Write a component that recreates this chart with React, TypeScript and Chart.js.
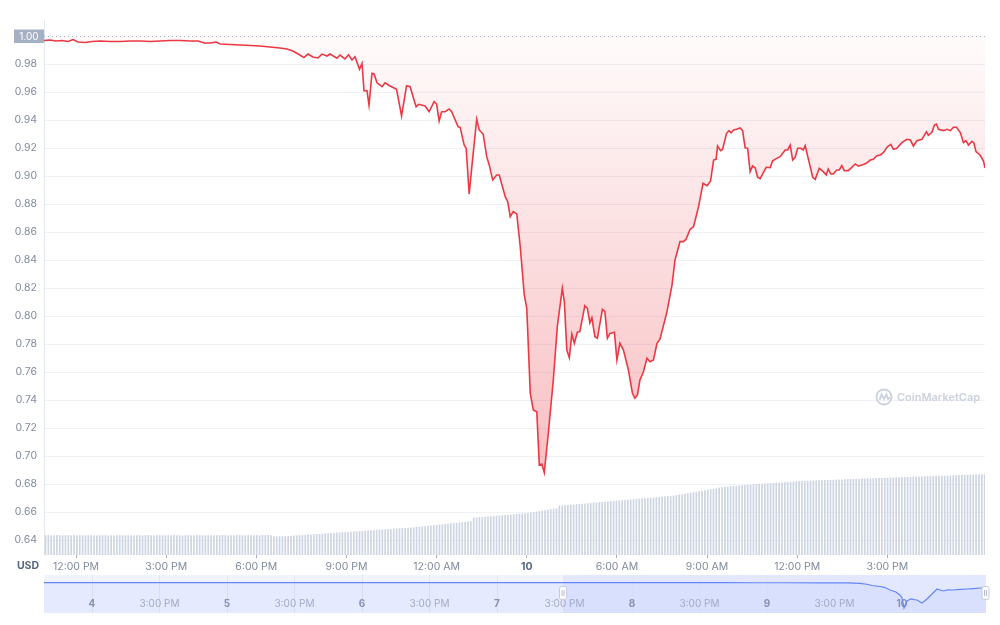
import React, { useEffect, useRef } from "react";
import { Chart, registerables } from "chart.js";

Chart.register(...registerables);

const FONT = "Inter, 'Noto Sans', sans-serif";

// minutes since 12:00 PM (day 9)
const priceTimes = [
  -64, -52, -40, -28, -16, -6, 4, 18, 32, 48,
  68, 88, 108, 128, 148, 168, 188, 208, 228, 244,
  256, 268, 280, 288, 308, 328, 348, 367, 387, 407,
  421, 433, 447, 455, 463, 473, 483, 491, 501, 507,
  521, 527, 537, 544, 551, 557, 566, 571, 575, 581,
  585, 591, 595, 601, 611, 617, 627, 640, 650, 660,
  667, 679, 684, 697, 705, 715, 720, 725, 730, 737,
  745, 750, 763, 767, 775, 779, 785, 790, 800, 805,
  813, 820, 825, 832, 840, 845, 857, 862, 867, 873,
  880, 887, 895, 900, 907, 913, 920, 925, 930, 935,
  943, 953, 961, 971, 975, 980, 985, 990, 995, 1001,
  1006, 1016, 1021, 1026, 1030, 1036, 1041, 1051, 1056, 1061,
  1066, 1075, 1080, 1086, 1093, 1103, 1111, 1116, 1121, 1126,
  1133, 1140, 1146, 1153, 1160, 1166, 1180, 1190, 1196, 1206,
  1213, 1218, 1226, 1233, 1243, 1252, 1260, 1267, 1273, 1278,
  1281, 1287, 1291, 1299, 1304, 1308, 1313, 1319, 1326, 1331,
  1336, 1341, 1346, 1351, 1356, 1361, 1366, 1378, 1386, 1391,
  1399, 1406, 1416, 1421, 1426, 1431, 1436, 1441, 1447, 1452,
  1456, 1462, 1471, 1476, 1484, 1492, 1498, 1502, 1507, 1512,
  1519, 1524, 1529, 1534, 1542, 1549, 1556, 1562, 1571, 1578,
  1586, 1592, 1599, 1606, 1612, 1620, 1627, 1632, 1639, 1649,
  1659, 1666, 1672, 1679, 1689, 1698, 1702, 1709, 1714, 1718,
  1722, 1732, 1739, 1746, 1752, 1758, 1766, 1772, 1777, 1782,
  1789, 1793, 1797, 1805, 1812, 1815,
];

const priceValues = [
  0.9968, 0.9971, 0.9964, 0.9968, 0.9961, 0.9975, 0.9957, 0.9954, 0.9961, 0.9964,
  0.9961, 0.9961, 0.9964, 0.9964, 0.9961, 0.9964, 0.9968, 0.9968, 0.9964, 0.9964,
  0.995, 0.995, 0.9957, 0.9943, 0.9939, 0.9936, 0.9932, 0.9929, 0.9921, 0.9914,
  0.9907, 0.9893, 0.9864, 0.9846, 0.9871, 0.985, 0.9843, 0.9871, 0.9857, 0.9871,
  0.9841, 0.9864, 0.9836, 0.9866, 0.9829, 0.9852, 0.9762, 0.9805, 0.9609, 0.9609,
  0.9507, 0.9734, 0.9729, 0.9666, 0.9638, 0.9666, 0.9643, 0.9619, 0.9429, 0.9645,
  0.9638, 0.9495, 0.9512, 0.95, 0.9459, 0.9531, 0.9514, 0.9393, 0.9459, 0.9459,
  0.9479, 0.9459, 0.9352, 0.9348, 0.9221, 0.9198, 0.8871, 0.9055, 0.9405, 0.9329,
  0.9298, 0.9138, 0.9079, 0.8971, 0.9007, 0.9007, 0.8852, 0.8816, 0.8709, 0.8745,
  0.8729, 0.8495, 0.815, 0.8055, 0.7448, 0.7329, 0.7316, 0.6936, 0.6943, 0.6881,
  0.7162, 0.7543, 0.7924, 0.8198, 0.8102, 0.7757, 0.7702, 0.7871, 0.7805, 0.7884,
  0.7888, 0.8074, 0.8055, 0.7952, 0.7988, 0.7852, 0.7841, 0.8048, 0.8031, 0.7841,
  0.7876, 0.7884, 0.7686, 0.7805, 0.7757, 0.7614, 0.7448, 0.7412, 0.7436, 0.7543,
  0.7602, 0.7698, 0.7673, 0.7686, 0.7805, 0.7834, 0.8031, 0.8221, 0.84, 0.8531,
  0.8531, 0.8548, 0.8618, 0.8638, 0.8781, 0.8948, 0.8931, 0.8964, 0.9114, 0.9119,
  0.9214, 0.9181, 0.9191, 0.9305, 0.9324, 0.9309, 0.9329, 0.9334, 0.9343, 0.9324,
  0.9202, 0.9198, 0.9031, 0.9071, 0.9059, 0.8991, 0.8981, 0.9062, 0.9059, 0.9109,
  0.9126, 0.9138, 0.9186, 0.9186, 0.9221, 0.9114, 0.9134, 0.9198, 0.9198, 0.9186,
  0.9216, 0.9126, 0.8991, 0.8976, 0.9055, 0.9031, 0.9007, 0.905, 0.9014, 0.9014,
  0.9043, 0.9043, 0.9074, 0.9038, 0.9038, 0.9062, 0.9086, 0.9071, 0.9081, 0.9091,
  0.9114, 0.9119, 0.9145, 0.915, 0.9166, 0.9209, 0.9226, 0.9191, 0.9198, 0.9238,
  0.9262, 0.9257, 0.9214, 0.9252, 0.9262, 0.9316, 0.9291, 0.9312, 0.9364, 0.9371,
  0.9334, 0.9324, 0.9334, 0.9324, 0.9348, 0.9348, 0.9309, 0.9238, 0.9252, 0.9221,
  0.9248, 0.9234, 0.9174, 0.915, 0.9107, 0.9057,
];

const VOLUME_START_MIN = -61;
const VOLUME_STEP_MIN = 5.7;
const volumeValues = [
  195, 196, 193, 195, 196, 195, 193, 196, 195, 194,
  196, 195, 193, 195, 192, 194, 195, 193, 195, 194,
  194, 195, 193, 194, 192, 195, 194, 193, 195, 194,
  195, 193, 195, 195, 193, 195, 196, 193, 195, 195,
  195, 196, 194, 193, 195, 196, 195, 194, 193, 195,
  195, 193, 195, 196, 194, 195, 193, 195, 195, 193,
  195, 194, 196, 195, 193, 195, 194, 196, 195, 194,
  195, 196, 194, 195, 196, 193, 196, 195, 196, 194,
  184, 182, 184, 185, 186, 187, 190, 191, 193, 195,
  197, 198, 201, 202, 205, 206, 209, 210, 213, 214,
  217, 218, 221, 222, 225, 226, 229, 230, 233, 233,
  236, 237, 240, 241, 244, 245, 248, 249, 252, 253,
  256, 257, 260, 261, 264, 265, 268, 269, 272, 273,
  277, 279, 283, 285, 289, 291, 295, 297, 301, 303,
  307, 309, 313, 315, 319, 321, 325, 327, 331, 333,
  370, 371, 375, 376, 380, 381, 385, 386, 390, 391,
  395, 396, 400, 401, 405, 406, 410, 411, 415, 416,
  420, 424, 430, 434, 440, 444, 450, 454, 460, 464,
  490, 491, 495, 496, 500, 501, 505, 506, 510, 511,
  515, 516, 520, 521, 525, 526, 530, 531, 535, 536,
  540, 541, 545, 546, 550, 551, 555, 556, 560, 561,
  565, 566, 570, 571, 575, 576, 580, 581, 585, 586,
  590, 594, 600, 604, 610, 614, 620, 624, 630, 634,
  640, 644, 650, 654, 660, 664, 670, 674, 680, 679,
  685, 686, 690, 691, 695, 696, 700, 701, 705, 706,
  708, 709, 712, 713, 716, 717, 720, 721, 724, 725,
  728, 729, 732, 733, 736, 736, 738, 739, 741, 741,
  745, 744, 746, 746, 748, 748, 750, 750, 752, 752,
  755, 755, 757, 757, 759, 759, 761, 761, 763, 763,
  765, 765, 767, 767, 769, 769, 771, 771, 773, 774,
  776, 776, 778, 778, 780, 780, 782, 782, 784, 784,
  786, 786, 788, 788, 790, 790, 792, 792, 794, 794,
  796, 796, 798, 798, 800, 800, 802, 802, 804, 805,
];

const xTickMinutes = [0, 180, 360, 540, 720, 900, 1080, 1260, 1440, 1620];
const xTickLabels = ["12:00 PM", "3:00 PM", "6:00 PM", "9:00 PM", "12:00 AM", "10", "6:00 AM", "9:00 AM", "12:00 PM", "3:00 PM"];
const yTickValues = [0.64, 0.66, 0.68, 0.7, 0.72, 0.74, 0.76, 0.78, 0.8, 0.82, 0.84, 0.86, 0.88, 0.9, 0.92, 0.94, 0.96, 0.98];
const REFERENCE_PRICE = 1.0;
const CURRENCY = "USD";
const WATERMARK = "CoinMarketCap";

// navigator (days of month)
const navDays = [
  3.644, 3.9, 4.15, 4.4, 4.65, 4.9, 5.15, 5.4, 5.65, 5.9,
  6.15, 6.4, 6.65, 6.9, 7.15, 7.4, 7.65, 7.9, 8.15, 8.4,
  8.65, 8.9, 9.15, 9.4, 9.6, 9.689, 9.74, 9.778, 9.837, 9.87,
  9.911, 9.955, 9.985, 10.0, 10.015, 10.037, 10.05, 10.067, 10.09, 10.111,
  10.148, 10.185, 10.222, 10.259, 10.304, 10.34, 10.378, 10.43, 10.481, 10.53,
  10.578, 10.622,
];
const navValues = [
  0.9987, 0.9992, 0.9985, 0.999, 0.9988, 0.9993, 0.9987, 0.999, 0.9986, 0.9991,
  0.9988, 0.9985, 0.999, 0.9987, 0.9992, 0.9988, 0.9985, 0.999, 0.9987, 0.9984,
  0.9986, 0.9982, 0.998, 0.9975, 0.996, 0.9908, 0.978, 0.9618, 0.9487, 0.938,
  0.9026, 0.8763, 0.8368, 0.8, 0.6658, 0.7579, 0.77, 0.7842, 0.775, 0.7711,
  0.7316, 0.7842, 0.85, 0.9158, 0.8895, 0.905, 0.9026, 0.91, 0.9158, 0.922,
  0.9289, 0.9289,
];
const navTickDays = [4, 4.5, 5, 5.5, 6, 6.5, 7, 7.5, 8, 8.5, 9, 9.5, 10];
const navTickLabels = ["4", "3:00 PM", "5", "3:00 PM", "6", "3:00 PM", "7", "3:00 PM", "8", "3:00 PM", "9", "3:00 PM", "10"];
const NAV_SELECTION_START = 7.489;

const mainDecor = {
  id: "mainDecor",
  beforeDatasetsDraw(chart: any) {
    const { ctx, chartArea, scales } = chart;
    ctx.save();
    // watermark
    const cx = 884, cy = 397;
    ctx.strokeStyle = "#cbd1dd";
    ctx.lineWidth = 1.8;
    ctx.beginPath();
    ctx.arc(cx, cy, 7.5, 0, Math.PI * 2);
    ctx.stroke();
    ctx.beginPath();
    ctx.moveTo(cx - 4.5, cy + 3);
    ctx.lineTo(cx - 2.5, cy - 2.5);
    ctx.lineTo(cx, cy + 2);
    ctx.lineTo(cx + 2.5, cy - 2.5);
    ctx.lineTo(cx + 4, cy + 2);
    ctx.lineTo(cx + 6, cy + 0.5);
    ctx.stroke();
    ctx.fillStyle = "#cbd1dd";
    ctx.font = `600 11px ${FONT}`;
    ctx.textBaseline = "middle";
    ctx.textAlign = "left";
    ctx.fillText(WATERMARK, 897, cy + 0.5);
    // dotted reference line
    const y = Math.round(scales.y.getPixelForValue(REFERENCE_PRICE)) + 0.5;
    ctx.strokeStyle = "#a6b0c3";
    ctx.lineWidth = 1;
    ctx.setLineDash([1, 3]);
    ctx.beginPath();
    ctx.moveTo(chartArea.left, y);
    ctx.lineTo(chartArea.right, y);
    ctx.stroke();
    ctx.restore();
  },
  afterDraw(chart: any) {
    const { ctx, scales } = chart;
    ctx.save();
    const y = scales.y.getPixelForValue(REFERENCE_PRICE);
    ctx.fillStyle = "#a6b0c3";
    ctx.fillRect(14, y - 6.5, 30, 13.5);
    ctx.fillStyle = "#ffffff";
    ctx.font = `10px ${FONT}`;
    ctx.textAlign = "center";
    ctx.textBaseline = "middle";
    ctx.fillText(REFERENCE_PRICE.toFixed(2), 29, y + 0.5);
    ctx.fillStyle = "#58667e";
    ctx.font = `700 10.5px ${FONT}`;
    ctx.fillText(CURRENCY, 28, 566);
    ctx.restore();
  },
};

function roundRect(ctx: CanvasRenderingContext2D, x: number, y: number, w: number, h: number, r: number) {
  ctx.beginPath();
  ctx.moveTo(x + r, y);
  ctx.lineTo(x + w - r, y);
  ctx.quadraticCurveTo(x + w, y, x + w, y + r);
  ctx.lineTo(x + w, y + h - r);
  ctx.quadraticCurveTo(x + w, y + h, x + w - r, y + h);
  ctx.lineTo(x + r, y + h);
  ctx.quadraticCurveTo(x, y + h, x, y + h - r);
  ctx.lineTo(x, y + r);
  ctx.quadraticCurveTo(x, y, x + r, y);
  ctx.closePath();
}

const navDecor = {
  id: "navDecor",
  beforeDraw(chart: any) {
    const { ctx, chartArea: a } = chart;
    ctx.save();
    ctx.fillStyle = "#f1f3fe";
    ctx.fillRect(a.left, a.top, a.right - a.left, a.bottom - a.top);
    const sx = chart.scales.x.getPixelForValue(NAV_SELECTION_START);
    ctx.fillStyle = "rgba(56,97,251,0.07)";
    ctx.fillRect(sx, a.top, a.right - sx, a.bottom - a.top);
    ctx.restore();
  },
  afterDraw(chart: any) {
    const { ctx, chartArea: a } = chart;
    const sx = chart.scales.x.getPixelForValue(NAV_SELECTION_START);
    ctx.save();
    for (const hx of [sx, a.right - 0.5]) {
      roundRect(ctx, hx - 3.5, 11.5, 7, 13, 2);
      ctx.fillStyle = "#ffffff";
      ctx.fill();
      ctx.strokeStyle = "#c5cbdc";
      ctx.lineWidth = 1;
      ctx.stroke();
      ctx.strokeStyle = "#b4bbcf";
      ctx.beginPath();
      ctx.moveTo(hx - 1, 15);
      ctx.lineTo(hx - 1, 21);
      ctx.moveTo(hx + 1, 15);
      ctx.lineTo(hx + 1, 21);
      ctx.stroke();
    }
    ctx.restore();
  },
};

export default function App() {
  const mainRef = useRef<HTMLCanvasElement>(null);
  const navRef = useRef<HTMLCanvasElement>(null);

  useEffect(() => {
    Chart.defaults.font.family = FONT;
    const main = new Chart(mainRef.current as HTMLCanvasElement, {
      type: "line",
      data: {
        datasets: [
          {
            type: "line",
            data: priceTimes.map((t, i) => ({ x: t, y: priceValues[i] })),
            borderColor: "#ea3943",
            borderWidth: 1.6,
            pointRadius: 0,
            tension: 0,
            fill: { value: REFERENCE_PRICE },
            backgroundColor: (c: any) => {
              const { ctx, chartArea, scales } = c.chart;
              if (!chartArea || !scales.y) return "rgba(234,57,67,0.1)";
              const g = ctx.createLinearGradient(0, scales.y.getPixelForValue(1.0), 0, scales.y.getPixelForValue(0.69));
              g.addColorStop(0, "rgba(234,57,67,0.02)");
              g.addColorStop(1, "rgba(234,57,67,0.32)");
              return g;
            },
            yAxisID: "y",
            order: 0,
          } as any,
          {
            type: "bar",
            data: volumeValues.map((v, i) => ({ x: VOLUME_START_MIN + i * VOLUME_STEP_MIN, y: v })),
            backgroundColor: "#cdd4e2",
            barThickness: 1,
            yAxisID: "y2",
            order: 1,
          } as any,
        ],
      },
      options: {
        responsive: false,
        animation: false,
        devicePixelRatio: 1,
        events: [],
        layout: { padding: { top: 20, right: 15, left: 0, bottom: 0 } },
        plugins: { legend: { display: false }, tooltip: { enabled: false } },
        scales: {
          x: {
            type: "linear",
            min: -64,
            max: 1815,
            offset: false,
            afterFit: (s: any) => { s.height = 20; },
            afterBuildTicks: (s: any) => { s.ticks = xTickMinutes.map((v) => ({ value: v })); },
            ticks: {
              autoSkip: false,
              maxRotation: 0,
              padding: 3,
              callback: (_v: any, i: number) => xTickLabels[i],
              color: (c: any) => (xTickLabels[c.index] === "10" ? "#58667e" : "#808a9d"),
              font: (c: any) => ({ family: FONT, size: 10.5, weight: xTickLabels[c.index] === "10" ? "bold" : "normal" }),
            },
            grid: { drawOnChartArea: false, drawTicks: true, tickLength: 3, color: "#a6b0c3", offset: false },
            border: { display: false },
          },
          y: {
            type: "linear",
            position: "left",
            min: 0.62929,
            max: 1.01143,
            afterFit: (s: any) => { s.width = 44; },
            afterBuildTicks: (s: any) => { s.ticks = yTickValues.map((v) => ({ value: v })); },
            ticks: {
              padding: 7,
              callback: (v: any) => Number(v).toFixed(2),
              color: "#808a9d",
              font: { family: FONT, size: 10.5 },
            },
            grid: { color: "#eff1f5", drawTicks: false },
            border: { display: true, color: "#e3e7ee" },
          },
          y2: { type: "linear", display: false, min: 0, max: 5350 },
        },
      } as any,
      plugins: [mainDecor],
    });

    const nav = new Chart(navRef.current as HTMLCanvasElement, {
      type: "line",
      data: {
        datasets: [
          {
            data: navDays.map((d, i) => ({ x: d, y: navValues[i] })),
            borderColor: "#6486f5",
            borderWidth: 1.2,
            pointRadius: 0,
            tension: 0,
            fill: "start",
            backgroundColor: "rgba(56,97,251,0.06)",
          } as any,
        ],
      },
      options: {
        responsive: false,
        animation: false,
        devicePixelRatio: 1,
        events: [],
        layout: { padding: { top: 0, right: 14, left: 44, bottom: 12 } },
        plugins: { legend: { display: false }, tooltip: { enabled: false } },
        scales: {
          x: {
            type: "linear",
            min: 3.6444,
            max: 10.6222,
            z: 1,
            afterFit: (s: any) => { s.height = 0; },
            afterBuildTicks: (s: any) => { s.ticks = navTickDays.map((v) => ({ value: v })); },
            ticks: {
              autoSkip: false,
              maxRotation: 0,
              mirror: true,
              padding: 3.5,
              callback: (_v: any, i: number) => navTickLabels[i],
              color: (c: any) => (c.index % 2 === 0 ? "#8d95ab" : "#a9afc2"),
              font: (c: any) => ({ family: FONT, size: 10, weight: c.index % 2 === 0 ? "bold" : "normal" }),
            },
            grid: { drawOnChartArea: true, drawTicks: false, color: "#e0e5f7" },
            border: { display: false },
          },
          y: { type: "linear", display: false, min: 0.6, max: 1.1 },
        },
      } as any,
      plugins: [navDecor],
    });

    return () => {
      main.destroy();
      nav.destroy();
    };
  }, []);

  return (
    <div style={{ position: "absolute", left: 0, top: 0, width: 1000, height: 625, background: "#ffffff" }}>
      <canvas ref={mainRef} width={1000} height={575} style={{ position: "absolute", left: 0, top: 0, width: 1000, height: 575 }} />
      <canvas ref={navRef} width={1000} height={50} style={{ position: "absolute", left: 0, top: 575, width: 1000, height: 50 }} />
    </div>
  );
}
